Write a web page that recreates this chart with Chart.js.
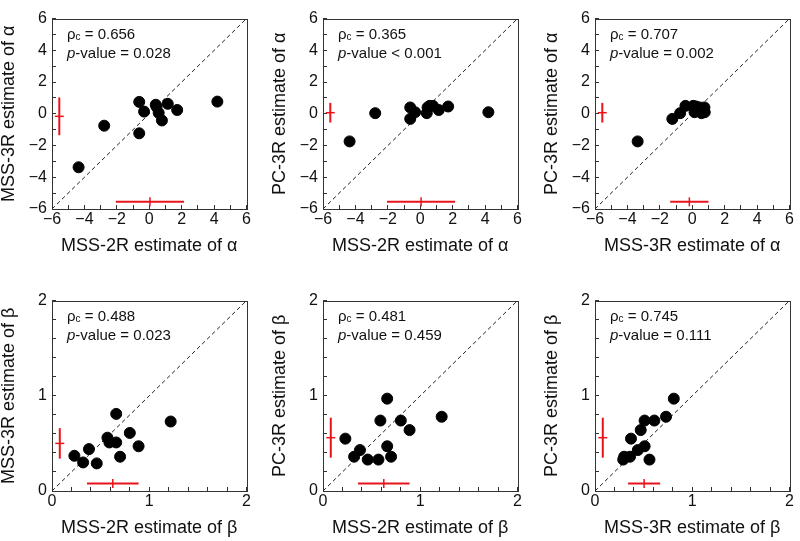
<!DOCTYPE html>
<html>
<head>
<meta charset="utf-8">
<script src="https://cdn.jsdelivr.net/npm/chart.js@4.4.1/dist/chart.umd.min.js"></script>
<style>
  html, body { margin: 0; padding: 0; background: #fff; overflow: hidden; }
  #wrap { position: relative; width: 800px; height: 541px; }
  canvas { position: absolute; }
</style>
</head>
<body>
<div id="wrap"></div>
<script>
// per-subject estimates, same order in every array
const mss2rAlpha = [-4.36, -2.78, -0.62, -0.62, -0.32, 0.40, 0.45, 0.58, 0.78, 1.14, 1.72, 4.20];
const mss3rAlpha = [-3.37, -0.75, 0.75, -1.23, 0.14, 0.57, 0.45, 0.06, -0.42, 0.63, 0.24, 0.77];
const pc3rAlpha  = [-1.74, 0.04, 0.40, -0.32, 0.10, 0.04, 0.40, 0.50, 0.50, 0.24, 0.46, 0.10];

const mss2rBeta = [0.23, 0.32, 0.38, 0.46, 0.57, 0.59, 0.66, 0.66, 0.70, 0.80, 0.89, 1.22];
const mss3rBeta = [0.37, 0.30, 0.44, 0.29, 0.56, 0.51, 0.51, 0.81, 0.36, 0.61, 0.47, 0.73];
const pc3rBeta  = [0.55, 0.36, 0.43, 0.33, 0.33, 0.74, 0.47, 0.97, 0.36, 0.74, 0.64, 0.78];

// concordance stats, panel order: top row then bottom row
const rhoC = ['0.656', '0.365', '0.707', '0.488', '0.481', '0.745'];
const pValues = ['= 0.028', '< 0.001', '= 0.002', '= 0.023', '= 0.459', '= 0.111'];

// red crosses: [mean, sd] along x and along y
const xBars = [[0.04, 2.10], [0.05, 2.10], [-0.18, 1.18], [0.625, 0.265], [0.625, 0.265], [0.505, 0.165]];
const yBars = [[-0.16, 1.19], [0.07, 0.62], [0.07, 0.62], [0.50, 0.16], [0.56, 0.21], [0.56, 0.21]];

const alphaTicks = [-6, -4, -2, 0, 2, 4, 6];
const betaTicks = [0, 1, 2];

const panels = [
  { x: mss2rAlpha, y: mss3rAlpha, xLabel: 'MSS-2R estimate of α', yLabel: 'MSS-3R estimate of α', kind: 'alpha' },
  { x: mss2rAlpha, y: pc3rAlpha,  xLabel: 'MSS-2R estimate of α', yLabel: 'PC-3R estimate of α',  kind: 'alpha' },
  { x: mss3rAlpha, y: pc3rAlpha,  xLabel: 'MSS-3R estimate of α', yLabel: 'PC-3R estimate of α',  kind: 'alpha' },
  { x: mss2rBeta,  y: mss3rBeta,  xLabel: 'MSS-2R estimate of β', yLabel: 'MSS-3R estimate of β', kind: 'beta' },
  { x: mss2rBeta,  y: pc3rBeta,   xLabel: 'MSS-2R estimate of β', yLabel: 'PC-3R estimate of β',  kind: 'beta' },
  { x: mss3rBeta,  y: pc3rBeta,   xLabel: 'MSS-3R estimate of β', yLabel: 'PC-3R estimate of β',  kind: 'beta' }
];

const ranges = {
  alpha: { min: -6, max: 6, step: 1, labels: alphaTicks, barAt: -5.55 },
  beta:  { min: 0,  max: 2, step: 0.2, labels: betaTicks, barAt: 0.08 }
};

const FONT = "'Liberation Sans', Arial, Helvetica, sans-serif";
const AXIS = '#333';
const RED = '#e8141c';

// where each plot box starts
const boxLefts = [52, 323, 595];
const boxTops = [7, 289];
const YAXIS_W = 52, XAXIS_H = 50, PAD_TOP = 7, PAD_RIGHT = 4;

// red crosses, frame and the stats text
const decorations = {
  id: 'decorations',
  afterDatasetsDraw(chart) {
    const o = chart.options.plugins.decorations;
    const { ctx, scales: { x, y } } = chart;
    const seg = (x1, y1, x2, y2, w) => {
      ctx.lineWidth = w;
      ctx.beginPath(); ctx.moveTo(x1, y1); ctx.lineTo(x2, y2); ctx.stroke();
    };
    ctx.save();
    ctx.strokeStyle = RED;
    const hy = y.getPixelForValue(o.barAt);
    const [mx, sx] = o.xBar;
    seg(x.getPixelForValue(mx - sx), hy, x.getPixelForValue(mx + sx), hy, 2);
    seg(x.getPixelForValue(mx), hy - 4.5, x.getPixelForValue(mx), hy + 4.5, 1.5);
    const vx = x.getPixelForValue(o.barAt);
    const [my, sy] = o.yBar;
    seg(vx, y.getPixelForValue(my - sy), vx, y.getPixelForValue(my + sy), 2);
    seg(vx - 4.5, y.getPixelForValue(my), vx + 4.5, y.getPixelForValue(my), 1.5);
    ctx.restore();
  },
  afterDraw(chart) {
    const o = chart.options.plugins.decorations;
    const { ctx, chartArea: a } = chart;
    ctx.save();
    ctx.strokeStyle = AXIS;
    ctx.lineWidth = 1;
    ctx.strokeRect(Math.round(a.left) + 0.5, Math.round(a.top) + 0.5, Math.round(a.width), Math.round(a.height));

    ctx.fillStyle = '#111';
    ctx.textBaseline = 'middle';
    let tx = a.left + 15;
    const l1 = a.top + 16, l2 = a.top + 35;
    ctx.font = '15px ' + FONT;
    ctx.fillText('ρ', tx, l1);
    tx += ctx.measureText('ρ').width;
    ctx.font = '10px ' + FONT;
    ctx.fillText('c', tx, l1 + 3);
    tx += ctx.measureText('c').width;
    ctx.font = '15px ' + FONT;
    ctx.fillText(' = ' + o.rho, tx, l1);

    tx = a.left + 15;
    ctx.font = 'italic 15px ' + FONT;
    ctx.fillText('p', tx, l2);
    tx += ctx.measureText('p').width;
    ctx.font = '15px ' + FONT;
    ctx.fillText('-value ' + o.p, tx, l2);
    ctx.restore();
  }
};

const fmt = v => String(v).replace('-', '\u2212');

panels.forEach((p, i) => {
  const r = ranges[p.kind];
  const col = i % 3, row = Math.floor(i / 3);
  const canvas = document.createElement('canvas');
  canvas.width = YAXIS_W + 200 + PAD_RIGHT;
  canvas.height = PAD_TOP + 202 + XAXIS_H;
  canvas.style.left = (boxLefts[col] - YAXIS_W) + 'px';
  canvas.style.top = (boxTops[row] - PAD_TOP) + 'px';
  document.getElementById('wrap').appendChild(canvas);

  const points = p.x.map((v, k) => ({ x: v, y: p.y[k] }));
  const tickLabel = v => {
    const hit = r.labels.find(t => Math.abs(t - v) < 1e-6);
    return hit === undefined ? '' : fmt(hit);
  };
  const axis = (title, horizontal) => ({
    type: 'linear',
    min: r.min,
    max: r.max,
    ticks: {
      stepSize: r.step,
      autoSkip: false,
      maxRotation: 0,
      color: '#111',
      font: { family: FONT, size: 16 },
      padding: horizontal ? 5 : 9,
      callback: tickLabel
    },
    grid: { drawOnChartArea: false, drawTicks: true, tickLength: -4, color: AXIS, tickColor: AXIS },
    border: { display: false },
    title: {
      display: true,
      text: title,
      color: '#111',
      font: { family: FONT, size: 18, lineHeight: 1 },
      padding: horizontal ? { top: 0, bottom: 4 } : { top: 0, bottom: 0 }
    },
    afterFit: s => { if (horizontal) s.height = XAXIS_H; else s.width = YAXIS_W; }
  });

  new Chart(canvas, {
    type: 'scatter',
    data: {
      datasets: [
        {
          data: points,
          backgroundColor: '#000',
          borderColor: '#000',
          pointRadius: 5.5,
          pointHoverRadius: 5.5,
          order: 0
        },
        {
          data: [{ x: r.min, y: r.min }, { x: r.max, y: r.max }],
          showLine: true,
          borderColor: '#222',
          borderWidth: 1,
          borderDash: [4, 3],
          pointRadius: 0,
          order: 1
        }
      ]
    },
    options: {
      responsive: false,
      animation: false,
      devicePixelRatio: 1,
      layout: { padding: { top: PAD_TOP, right: PAD_RIGHT, left: 0, bottom: 0 } },
      scales: {
        x: axis(p.xLabel, true),
        y: axis(p.yLabel, false)
      },
      plugins: {
        legend: { display: false },
        tooltip: { enabled: false },
        decorations: { rho: rhoC[i], p: pValues[i], xBar: xBars[i], yBar: yBars[i], barAt: r.barAt }
      }
    },
    plugins: [decorations]
  });
});
</script>
</body>
</html>
